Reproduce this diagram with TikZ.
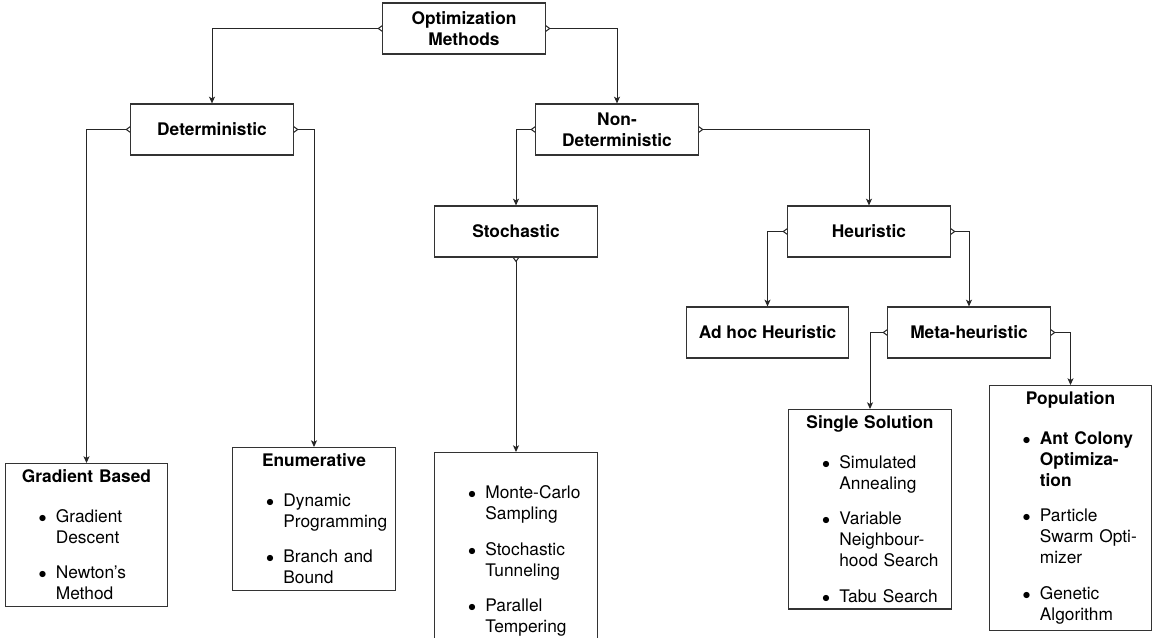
\documentclass[tikz,border=0pt]{standalone}
\usepackage{fontspec}
\setmainfont{TeX Gyre Heros}
\usepackage{enumitem}
\usepackage{tikz}
\usetikzlibrary{arrows.meta,backgrounds}
\definecolor{cBoxL}{HTML}{333333}
\definecolor{cLink}{HTML}{262626}
\setlist[itemize]{label=$\bullet$,leftmargin=34pt,labelsep=7pt,itemsep=11pt,
  parsep=0pt,topsep=14pt,partopsep=0pt}
\tikzset{
  omhead/.style={draw=cBoxL,fill=white,line width=0.9pt,align=center,
      font=\bfseries\fontsize{13}{15.75}\selectfont,minimum width=122pt,
      minimum height=38.25pt,inner sep=2pt},
  omleaf/.style={draw=cBoxL,fill=white,line width=0.9pt,anchor=north,
      font=\fontsize{13}{15.75}\selectfont,text width=#1,inner xsep=4pt,inner ysep=4.6pt},
  omleaf/.default=114pt,
  omlink/.style={{Diamond[open,length=7pt,width=5pt]}-{Stealth[length=5pt,width=4.5pt,inset=1.2pt]},
      draw=cLink,line width=0.75pt,shorten <=-3.5pt},
}
\newcommand{\leafhead}[1]{{\centering\bfseries #1\par}}
\newcommand{\branch}[3]{\draw[omlink] (#1.#2) -| (#3.north);}

\begin{document}
\begin{tikzpicture}[x=0.75pt,y=-0.75pt]
  \useasboundingbox (0,0) rectangle (1153,638);

  \node[omhead] (om) at (464,28.5) {Optimization\\Methods};
  \node[omhead] (det) at (212,129.5) {Deterministic};
  \node[omhead] (ndet) at (617,129.5) {Non-\\Deterministic};
  \node[omhead] (sto) at (516,231.5) {Stochastic};
  \node[omhead] (heu) at (869,231.5) {Heuristic};
  \node[omhead] (adh) at (767.5,332.5) {Ad hoc Heuristic};
  \node[omhead] (meta) at (969,332.5) {Meta-heuristic};

  \node[omleaf] (grad) at (86.5,463) {\raggedright\leafhead{Gradient Based}
    \begin{itemize}
      \item Gradient\newline Descent
      \item Newton’s\newline Method
    \end{itemize}};
  \node[omleaf] (enum) at (314,447) {\raggedright\leafhead{Enumerative}
    \begin{itemize}
      \item Dynamic\newline Programming
      \item Branch and\newline Bound
    \end{itemize}};
  \node[omleaf] (stol) at (516,452) {\raggedright
    \begin{itemize}
      \item Monte-Carlo\newline Sampling
      \item Stochastic\newline Tunneling
      \item Parallel\newline Tempering
    \end{itemize}};
  \node[omleaf] (single) at (870,409) {\raggedright\leafhead{Single Solution}
    \begin{itemize}
      \item Simulated\newline Annealing
      \item Variable\newline Neighbour-\newline hood Search
      \item Tabu Search
    \end{itemize}};
  \node[omleaf] (popu) at (1070.5,385) {\raggedright\leafhead{Population}
    \begin{itemize}
      \item \textbf{Ant Colony\newline Optimiza-\newline tion}
      \item Particle\newline Swarm Opti-\newline mizer
      \item Genetic\newline Algorithm
    \end{itemize}};

  \begin{scope}[on background layer]
    \branch{om}{west}{det}
    \branch{om}{east}{ndet}
    \branch{det}{west}{grad}
    \branch{det}{east}{enum}
    \branch{ndet}{west}{sto}
    \branch{ndet}{east}{heu}
    \draw[omlink] (sto.south) -- (stol.north);
    \branch{heu}{west}{adh}
    \branch{heu}{east}{meta}
    \branch{meta}{west}{single}
    \branch{meta}{east}{popu}
  \end{scope}
\end{tikzpicture}
\end{document}
